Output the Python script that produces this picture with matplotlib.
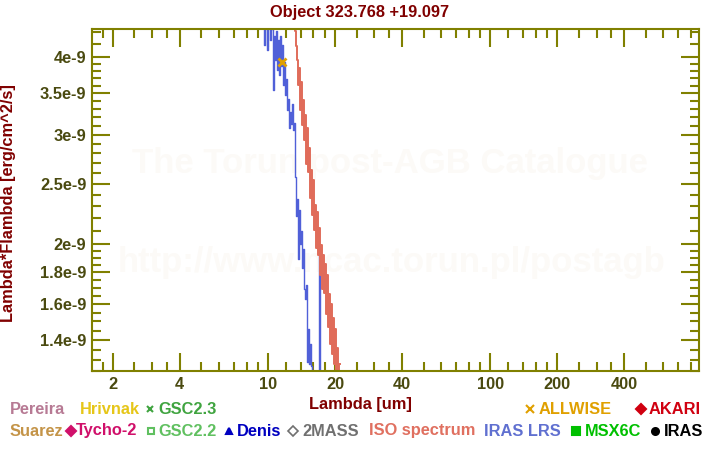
import matplotlib
matplotlib.use("Agg")
import matplotlib.pyplot as plt
from matplotlib.lines import Line2D
from matplotlib.ticker import NullFormatter, FixedLocator, FixedFormatter

plt.rcParams['font.family'] = ['Liberation Sans', 'DejaVu Sans']
plt.rcParams['font.weight'] = 'bold'

# ---- data ----
lrs_wave = [9.47, 9.66, 9.77, 9.97, 10.07, 10.29, 10.40, 10.61, 10.72, 10.83,
            10.94, 11.05, 11.17, 11.29, 11.41, 11.53, 11.65, 11.77, 11.89, 12.02,
            12.14, 12.27, 12.39, 12.52, 12.65, 12.79, 12.92, 13.06, 13.19, 13.26,
            13.33, 13.47, 13.61, 13.75, 13.90, 14.04, 14.18, 14.33, 14.48, 14.63,
            14.78, 14.94, 15.10, 15.26, 15.41, 15.57, 15.73, 15.90, 16.24, 16.57,
            16.92, 17.10, 17.28, 17.64]
lrs_flux = [4.59, 4.19, 4.52, 4.11, 4.55, 4.26, 4.45, 3.55, 4.33, 3.96,
            4.42, 3.82, 4.26, 3.75, 4.33, 3.88, 4.19, 3.61, 3.93, 3.48,
            3.69, 3.29, 3.43, 3.08, 3.26, 3.12, 3.36, 3.05, 3.14, 2.57,
            2.52, 2.22, 2.36, 1.89, 2.27, 2.00, 2.10, 1.83, 1.96, 1.69,
            1.63, 1.72, 1.29, 1.46, 1.28, 1.38, 1.27, 1.19, 1.16, 1.21,
            1.17, 1.95, 1.19, 1.12]

iso_wave = [13.19, 13.33, 13.47, 13.61, 13.75, 13.89, 14.04, 14.18, 14.33, 14.48,
            14.63, 14.78, 14.94, 15.09, 15.25, 15.41, 15.57, 15.73, 15.90, 16.06,
            16.23, 16.40, 16.57, 16.74, 16.92, 17.09, 17.27, 17.45, 17.64, 17.82,
            18.01, 18.19, 18.38, 18.58, 18.77, 18.97, 19.16, 19.36, 19.57, 19.77,
            19.98, 20.19, 20.40, 20.61, 20.83, 21.04]
iso_flux = [4.76, 4.42, 4.18, 3.96, 3.61, 3.84, 3.29, 3.65, 3.11, 3.41,
            2.94, 3.23, 2.69, 3.08, 2.61, 2.86, 2.37, 2.63, 2.23, 2.54,
            2.11, 2.31, 1.97, 2.25, 1.92, 2.12, 1.78, 1.99, 1.69, 1.92,
            1.67, 1.86, 1.54, 1.78, 1.47, 1.66, 1.38, 1.60, 1.33, 1.52,
            1.28, 1.46, 1.245, 1.36, 1.15, 1.28]

allwise_wave = [11.56]
allwise_flux = [3.93]

x_major = [2, 4, 10, 20, 40, 100, 200, 400]
x_major_labels = ['2', '4', '10', '20', '40', '100', '200', '400']
x_minor = [1.8, 2.5, 3, 3.5, 5, 6, 7, 8, 9, 12, 14, 16, 18, 25, 30, 35,
           50, 60, 70, 80, 90, 120, 140, 160, 180, 250, 300, 350,
           500, 600, 700, 800]
y_major = [1.4, 1.6, 1.8, 2.0, 2.5, 3.0, 3.5, 4.0]
y_major_labels = ['1.4e-9', '1.6e-9', '1.8e-9', '2e-9', '2.5e-9', '3e-9', '3.5e-9', '4e-9']
y_minor = [1.25, 1.3, 1.35, 1.45, 1.5, 1.55, 1.65, 1.7, 1.75, 1.85, 1.9, 1.95,
           2.1, 2.2, 2.3, 2.4, 2.6, 2.7, 2.8, 2.9, 3.1, 3.2, 3.3, 3.4,
           3.6, 3.7, 3.8, 3.9, 4.2, 4.4]
scale = 1e-9

OLIVE = '#808000'
TICKLAB = '#4a4a10'
DARKRED = '#800000'
FS = 11.8

fig = plt.figure(figsize=(7.2, 4.5), dpi=100)
W, H = 720, 450
ax = fig.add_axes([92 / W, 1 - 371 / H, (699 - 92) / W, (371 - 29) / H])

ax.set_xscale('log')
ax.set_yscale('log')

# watermarks
ax.text(0.491, 0.608, 'The Torun post-AGB Catalogue', transform=ax.transAxes,
        ha='center', va='center', fontsize=25, color='#fcfaf7', zorder=0)
ax.text(0.493, 0.316, 'http://www.ncac.torun.pl/postagb', transform=ax.transAxes,
        ha='center', va='center', fontsize=25, color='#fcfaf7', zorder=0)

ax.plot(lrs_wave, [v * scale for v in lrs_flux], color='#5060d8', lw=1.0,
        drawstyle='steps-mid', zorder=2)
ax.plot(iso_wave, [v * scale for v in iso_flux], color='#e06c5a', lw=1.4,
        drawstyle='steps-mid', zorder=2)
ax.plot(allwise_wave, [v * scale for v in allwise_flux], linestyle='none',
        marker='x', color='#e0a000', ms=6, mew=2, zorder=3)

ax.set_xlim(1.614, 867)
ax.set_ylim(1.248e-9, 4.445e-9)

ax.xaxis.set_major_locator(FixedLocator(x_major))
ax.xaxis.set_major_formatter(FixedFormatter(x_major_labels))
ax.xaxis.set_minor_locator(FixedLocator(x_minor))
ax.xaxis.set_minor_formatter(NullFormatter())
ax.yaxis.set_major_locator(FixedLocator([v * scale for v in y_major]))
ax.yaxis.set_major_formatter(FixedFormatter(y_major_labels))
ax.yaxis.set_minor_locator(FixedLocator([v * scale for v in y_minor]))
ax.yaxis.set_minor_formatter(NullFormatter())

ax.tick_params(which='both', direction='in', top=True, right=True,
               color=OLIVE, width=1.5, labelcolor=TICKLAB, labelsize=FS)
ax.tick_params(which='major', length=12.7, pad=4)
ax.tick_params(which='minor', length=6.5)
for lab in ax.get_xticklabels() + ax.get_yticklabels():
    lab.set_fontweight('bold')
for s in ax.spines.values():
    s.set_color(OLIVE)
    s.set_linewidth(1.5)

fig.text(360 / W, 1 - 12 / H, 'Object 323.768 +19.097', ha='center', va='center',
         fontsize=FS, color=DARKRED, fontweight='bold')
fig.text(360 / W, 1 - 404 / H, 'Lambda [um]', ha='center', va='center',
         fontsize=FS, color=DARKRED, fontweight='bold')
fig.text(9 / W, 1 - 203 / H, 'Lambda*Flambda [erg/cm^2/s]', ha='center', va='center',
         rotation=90, fontsize=FS, color=DARKRED, fontweight='bold')


def legend_item(xm, xt, yp, text, color, marker=None, ms=5, mfc=None, mew=1.5):
    y = 1 - yp / H
    if marker is not None:
        fig.add_artist(Line2D([xm / W], [y], transform=fig.transFigure,
                              marker=marker, color=color, ms=ms, linestyle='none',
                              markerfacecolor=mfc if mfc is not None else color,
                              mew=mew))
    fig.text(xt / W, y, text, ha='left', va='center', fontsize=FS,
             color=color, fontweight='bold')


r1, r2 = 409, 431
legend_item(None, 10, r1, 'Pereira', '#b77a94')
legend_item(None, 80, r1, 'Hrivnak', '#e6c619')
legend_item(149.5, 158, r1, 'GSC2.3', '#40a440', marker='x', ms=5)
legend_item(530, 539, r1, 'ALLWISE', '#e0a000', marker='x', ms=6)
legend_item(641, 649, r1, 'AKARI', '#d00010', marker='D', ms=5)

legend_item(None, 10, r2, 'Suarez', '#c49448')
legend_item(70.5, 76, r2, 'Tycho-2', '#d0106a', marker='D', ms=5)
legend_item(151, 158, r2, 'GSC2.2', '#60c060', marker='s', ms=5, mfc='white')
legend_item(229, 237, r2, 'Denis', '#0000c0', marker='^', ms=5)
legend_item(293, 302, r2, '2MASS', '#707070', marker='D', ms=5, mfc='white', mew=1.2)
legend_item(None, 369, r2, 'ISO spectrum', '#e07060')
legend_item(None, 484, r2, 'IRAS LRS', '#6070d0')
legend_item(576, 585, r2, 'MSX6C', '#00c000', marker='s', ms=6)
legend_item(655, 664, r2, 'IRAS', '#000000', marker='o', ms=5)

fig.savefig('out.png', dpi=100)
